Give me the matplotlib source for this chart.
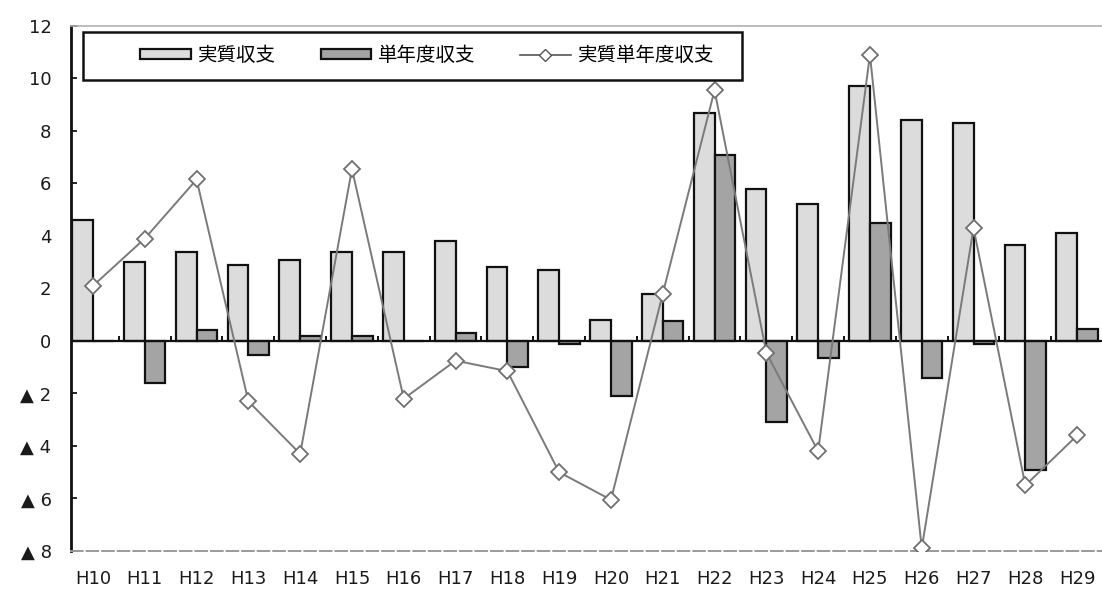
import matplotlib.pyplot as plt
from matplotlib.patches import Rectangle
from matplotlib.lines import Line2D

plt.rcParams['font.family'] = ['DejaVu Sans', 'Noto Sans CJK JP']

# fiscal years
years = ["H10", "H11", "H12", "H13", "H14", "H15", "H16", "H17", "H18", "H19",
         "H20", "H21", "H22", "H23", "H24", "H25", "H26", "H27", "H28", "H29"]

# 実質収支
jisshitsu = [4.6, 3.0, 3.4, 2.9, 3.1, 3.4, 3.4, 3.8, 2.8, 2.7,
             0.8, 1.8, 8.7, 5.8, 5.2, 9.7, 8.4, 8.3, 3.65, 4.1]
# 単年度収支
tannendo = [0.0, -1.6, 0.4, -0.55, 0.2, 0.2, 0.0, 0.3, -1.0, -0.1,
            -2.1, 0.75, 7.1, -3.1, -0.65, 4.5, -1.4, -0.1, -4.9, 0.45]
# 実質単年度収支
jisshitsu_tannendo = [2.1, 3.9, 6.15, -2.3, -4.3, 6.55, -2.2, -0.75, -1.15, -5.0,
                      -6.05, 1.8, 9.55, -0.45, -4.2, 10.9, -7.9, 4.3, -5.5, -3.6]

yticks = [12, 10, 8, 6, 4, 2, 0, -2, -4, -6, -8]
ytick_labels = ["12", "10", "8", "6", "4", "2", "0", "▲ 2", "▲ 4", "▲ 6", "▲ 8"]

x = list(range(len(years)))
w = 0.4

fig = plt.figure(figsize=(11.02, 5.94), dpi=100)
ax = fig.add_axes([0.0644, 0.0724, 0.9356, 0.884])

light = ax.bar([i - w / 2 for i in x], jisshitsu, width=w, color="#dcdcdc",
               edgecolor="#111111", linewidth=1.6, label="実質収支", zorder=2)
dark = ax.bar([i + w / 2 for i in x], tannendo, width=w, color="#a4a4a4",
              edgecolor="#111111", linewidth=1.6, label="単年度収支", zorder=2)
line, = ax.plot(x, jisshitsu_tannendo, color="#7a7a7a", linewidth=1.4,
                marker="D", markersize=8, markerfacecolor="white",
                markeredgecolor="#707070", markeredgewidth=1.3,
                label="実質単年度収支", zorder=3)

# zero line with small category ticks
ax.axhline(0, color="#111111", linewidth=1.6, zorder=2.5)
ax.vlines([i + 0.5 for i in x[:-1]], 0, 0.2, color="#111111", linewidth=1.4, zorder=2.5)

ax.set_xlim(-0.425, 19.48)
ax.set_ylim(-8, 12)
ax.set_xticks(x)
ax.set_xticklabels(years, fontsize=13, color="#1a1a1a")
ax.set_yticks(yticks)
ax.set_yticklabels(ytick_labels, fontsize=13, color="#1a1a1a")
ax.tick_params(axis="x", length=0, pad=14)
ax.tick_params(axis="y", direction="in", length=4, width=1.2, pad=14)

ax.spines["left"].set_linewidth(2)
ax.spines["left"].set_color("#111111")
ax.spines["right"].set_visible(False)
ax.spines["top"].set_color("#b0b0b0")
ax.spines["top"].set_linewidth(1.2)
ax.spines["bottom"].set_color("#9a9a9a")
ax.spines["bottom"].set_linewidth(1.4)
ax.spines["bottom"].set_linestyle((0, (6, 2)))

# legend box
ax.add_patch(Rectangle((0.0116, 0.897), 0.639, 0.0916, transform=ax.transAxes,
                       facecolor="white", edgecolor="#111111", linewidth=1.8,
                       zorder=4, clip_on=False))
handle_line = Line2D([], [], color="#555555", linewidth=1.2, marker="D",
                     markersize=6, markerfacecolor="white", markeredgecolor="#555555")
leg = ax.legend([light, dark, handle_line], ["実質収支", "単年度収支", "実質単年度収支"],
                loc="center left", bbox_to_anchor=(0.058, 0.943), ncol=3,
                frameon=False, fontsize=14, borderpad=0, handlelength=2.6,
                handleheight=0.4, handletextpad=0.35, columnspacing=2.3,
                prop={'family': ['Noto Sans CJK JP'], 'size': 14})
leg.set_zorder(5)

fig.savefig("out.png", dpi=100)
